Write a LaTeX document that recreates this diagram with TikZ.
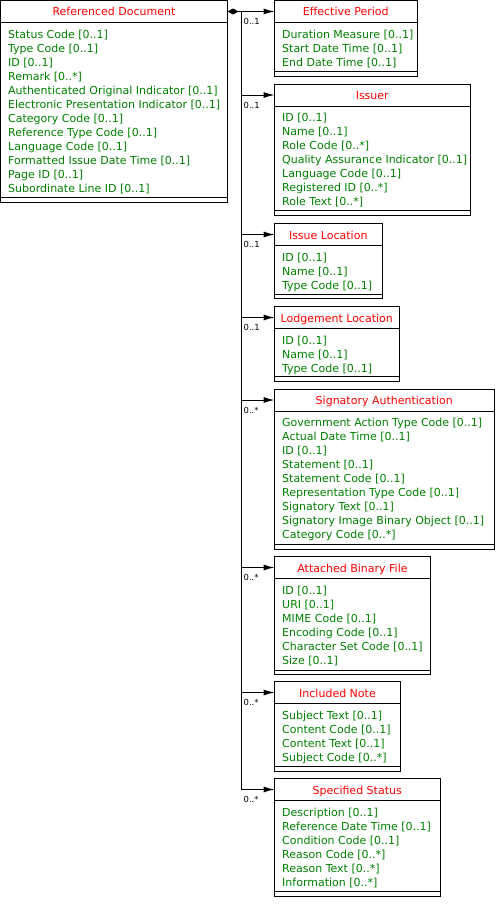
\documentclass[tikz,border=0pt]{standalone}
\usepackage{fontspec}
\setmainfont{DejaVu Sans}
\usetikzlibrary{arrows.meta}
\definecolor{umlred}{RGB}{255,0,0}
\definecolor{umlgreen}{RGB}{0,128,0}
\tikzset{
  box/.style={draw=black, line width=1pt, inner sep=0pt, outer sep=0pt},
  hdr/.style={box, text=umlred, font=\fontsize{11}{14}\selectfont, text height=9pt, text depth=0pt},
  body/.style={box},
  rule/.style={line width=1pt},
  attr/.style={text=umlgreen, font=\fontsize{11}{14}\selectfont, inner sep=0pt},
  mult/.style={font=\fontsize{8.4}{10}\selectfont, inner sep=0pt},
  conn/.style={line width=1pt, -{Latex[length=11pt,width=6pt]}},
  agg/.style={line width=1pt, {Diamond[length=11pt,width=6pt]}-},
}
% #1 name, #2 left x, #3 top y, #4 width, #5 bottom y, #6 title, #7 attributes
\newcommand\umlclass[7]{%
  \node[hdr, minimum width=#4, minimum height=22, anchor=north west] (#1-h) at (#2,#3) {#6};
  \node[body, minimum width=#4, minimum height={#5-#3-22}, anchor=north west] (#1) at (#1-h.south west) {};
  \draw[rule] ([yshift=4.5pt]#1.south west) -- ([yshift=4.5pt]#1.south east);
  \foreach \attrtext [count=\k] in {#7}
    \node[attr, anchor=base west] (#1-a\k) at ({#2+7.5},{#3+37.5+14*(\k-1)}) {\attrtext};
}
\newcommand\umlmult[3]{% #1 name, #2 top y, #3 text
  \node[mult, anchor=base west] (#1-m) at (243.5,{#2+24}) {#3};
}
\begin{document}
\begin{tikzpicture}[x=1pt,y=-1pt]
\useasboundingbox (0,0) rectangle (496,910);

\umlclass{main}{0.5}{0.5}{227}{202}{Referenced Document}{Status Code [0..1],Type Code [0..1],ID [0..1],Remark [0..*],Authenticated Original Indicator [0..1],Electronic Presentation Indicator [0..1],Category Code [0..1],Reference Type Code [0..1],Language Code [0..1],Formatted Issue Date Time [0..1],Page ID [0..1],Subordinate Line ID [0..1]}

\umlclass{ep}{274.5}{0.5}{142.5}{76}{Effective Period}{Duration Measure [0..1],Start Date Time [0..1],End Date Time [0..1]}
\umlclass{is}{274.5}{84}{195.5}{215}{Issuer}{ID [0..1],Name [0..1],Role Code [0..*],Quality Assurance Indicator [0..1],Language Code [0..1],Registered ID [0..*],Role Text [0..*]}
\umlclass{il}{274.5}{223.5}{107.5}{298.5}{Issue Location}{ID [0..1],Name [0..1],Type Code [0..1]}
\umlclass{ll}{274.5}{306.5}{124.5}{381}{Lodgement Location}{ID [0..1],Name [0..1],Type Code [0..1]}
\umlclass{sa}{274.5}{389}{219.5}{549}{Signatory Authentication}{Government Action Type Code [0..1],Actual Date Time [0..1],ID [0..1],Statement [0..1],Statement Code [0..1],Representation Type Code [0..1],Signatory Text [0..1],Signatory Image Binary Object [0..1],Category Code [0..*]}
\umlclass{ab}{274.5}{556.5}{156}{674.5}{Attached Binary File}{ID [0..1],URI [0..1],MIME Code [0..1],Encoding Code [0..1],Character Set Code [0..1],Size [0..1]}
\umlclass{in}{274.5}{681.5}{126}{771}{Included Note}{Subject Text [0..1],Content Code [0..1],Content Text [0..1],Subject Code [0..*]}
\umlclass{ss}{274.5}{778.5}{165.5}{896}{Specified Status}{Description [0..1],Reference Date Time [0..1],Condition Code [0..1],Reason Code [0..*],Reason Text [0..*],Information [0..*]}

\coordinate (bus) at (241,11.5);
\draw[agg] (main-h.east) -- (bus);
\foreach \cls in {ep,is,il,ll,sa,ab,in,ss}
  \draw[conn] (bus) |- (\cls-h.west);

\umlmult{ep}{0.5}{0..1}
\umlmult{is}{84}{0..1}
\umlmult{il}{223.5}{0..1}
\umlmult{ll}{306.5}{0..1}
\umlmult{sa}{389}{0..*}
\umlmult{ab}{556.5}{0..*}
\umlmult{in}{681.5}{0..*}
\umlmult{ss}{778.5}{0..*}
\end{tikzpicture}
\end{document}
